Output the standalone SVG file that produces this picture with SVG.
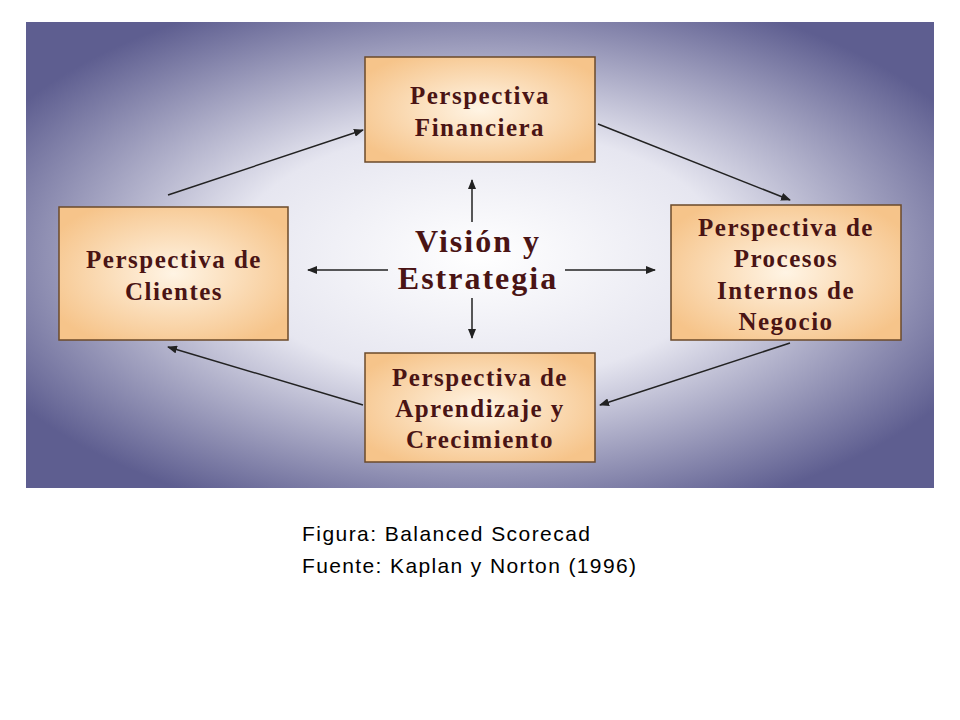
<svg xmlns="http://www.w3.org/2000/svg" width="960" height="720" viewBox="0 0 960 720">
<style>
.box{stroke:#6b4a2a;stroke-width:1.5}
.t{font-family:"Liberation Serif",serif;font-weight:bold;font-size:25px;letter-spacing:1.5px;fill:#4a1414;text-anchor:middle}
.v{font-size:32px;letter-spacing:2px}
.c{stroke:#222;stroke-width:1.5;fill:none;marker-end:url(#a)}
.cap{font-family:"Liberation Sans",Arial,sans-serif;font-size:21px;fill:#000}
</style>
<defs>
<radialGradient id="bg" cx="50%" cy="50%" r="60%">
<stop offset="0" stop-color="#ffffff"/><stop offset="0.45" stop-color="#e6e6f0"/><stop offset="1" stop-color="#5e5e90"/>
</radialGradient>
<radialGradient id="bx" cx="50%" cy="50%" r="60%">
<stop offset="0" stop-color="#fff4e4"/><stop offset="1" stop-color="#f6c48a"/>
</radialGradient>
<marker id="a" markerWidth="10" markerHeight="8" refX="9" refY="4" orient="auto" markerUnits="userSpaceOnUse">
<path d="M0,0 L10,4 L0,8 Z" fill="#222"/>
</marker>
</defs>
<rect width="960" height="720" fill="#fff"/>
<rect x="26" y="22" width="908" height="466" fill="url(#bg)"/>
<g id="connectors">
<line class="c" x1="168" y1="195" x2="363" y2="130"/>
<line class="c" x1="598" y1="124" x2="790" y2="200"/>
<line class="c" x1="790" y1="343" x2="600" y2="405"/>
<line class="c" x1="363" y1="405" x2="168" y2="347"/>
<line class="c" x1="472" y1="222" x2="472" y2="180"/>
<line class="c" x1="472" y1="298" x2="472" y2="338"/>
<line class="c" x1="388" y1="270" x2="308" y2="270"/>
<line class="c" x1="565" y1="270" x2="655" y2="270"/>
</g>
<g id="financiera"><rect class="box" x="365" y="57" width="230" height="105" fill="url(#bx)"/>
<text class="t" x="480" y="104">Perspectiva</text><text class="t" x="480" y="136">Financiera</text></g>
<g id="clientes"><rect class="box" x="59" y="207" width="229" height="133" fill="url(#bx)"/>
<text class="t" x="174" y="268">Perspectiva de</text><text class="t" x="174" y="300">Clientes</text></g>
<g id="procesos"><rect class="box" x="671" y="205" width="230" height="135" fill="url(#bx)"/>
<text class="t" x="786" y="236">Perspectiva de</text><text class="t" x="786" y="267">Procesos</text><text class="t" x="786" y="299">Internos de</text><text class="t" x="786" y="330">Negocio</text></g>
<g id="aprendizaje"><rect class="box" x="365" y="353" width="230" height="109" fill="url(#bx)"/>
<text class="t" x="480" y="386">Perspectiva de</text><text class="t" x="480" y="417">Aprendizaje y</text><text class="t" x="480" y="448">Crecimiento</text></g>
<g id="vision"><text class="t v" x="478" y="252">Visión y</text><text class="t v" x="478" y="289">Estrategia</text></g>
<text class="cap" x="302" y="541" textLength="288">Figura: Balanced Scorecad</text>
<text class="cap" x="302" y="573" textLength="334">Fuente: Kaplan y Norton (1996)</text>
</svg>
